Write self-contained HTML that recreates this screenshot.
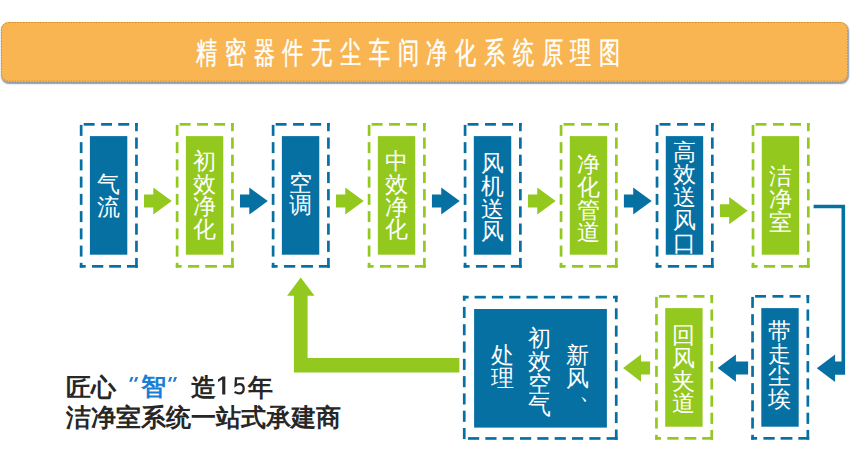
<!DOCTYPE html>
<html><head><meta charset="utf-8"><style>
html,body{margin:0;padding:0;background:#fff}
body{width:850px;height:459px;position:relative;overflow:hidden;font-family:"Liberation Sans",sans-serif}
.bar{position:absolute;left:1px;top:22px;width:847px;height:59.6px;background:#f8b551;border-radius:8px;box-shadow:0.3px 1.7px 1.4px rgba(75,88,118,.62)}
.title{position:absolute;left:195.5px;top:31px;color:#fff;font-size:30px;font-weight:500;-webkit-text-stroke:0.45px #fff;white-space:nowrap;letter-spacing:10.8px;transform:scaleX(0.706);transform-origin:0 0;line-height:44px}
svg{position:absolute;left:0;top:0}
.bt{position:absolute;color:#fff;font-size:23px;line-height:22.7px;text-align:center}
.bc{position:absolute;color:#fff;font-size:23px;line-height:22.7px;width:40px;text-align:center}
.sl{position:absolute;left:66px;color:#272727;font-weight:bold;font-size:25px;white-space:nowrap;line-height:30px}
.q{color:#1a7fd4}
</style></head><body>
<div class="bar"></div>
<div class="title">精密器件无尘车间净化系统原理图</div>
<svg width="850" height="459" viewBox="0 0 850 459" shape-rendering="geometricPrecision">
<rect x="1.5" y="22.5" width="846" height="58.6" rx="7.5" fill="none" stroke="#d38d2a" stroke-width="1" stroke-dasharray="1.5 1.3"/>
<rect x="83.70" y="123.00" width="10.90" height="2.70" fill="#0670a3"/>
<rect x="101.10" y="123.00" width="10.90" height="2.70" fill="#0670a3"/>
<rect x="118.20" y="123.00" width="11.00" height="2.70" fill="#0670a3"/>
<rect x="135.10" y="123.00" width="2.70" height="2.70" fill="#0670a3"/>
<rect x="135.10" y="123.00" width="2.70" height="8.20" fill="#0670a3"/>
<rect x="135.10" y="137.50" width="2.70" height="11.20" fill="#0670a3"/>
<rect x="135.10" y="154.70" width="2.70" height="11.20" fill="#0670a3"/>
<rect x="135.10" y="171.90" width="2.70" height="11.20" fill="#0670a3"/>
<rect x="135.10" y="189.10" width="2.70" height="11.20" fill="#0670a3"/>
<rect x="135.10" y="206.30" width="2.70" height="11.20" fill="#0670a3"/>
<rect x="135.10" y="223.50" width="2.70" height="11.20" fill="#0670a3"/>
<rect x="135.10" y="240.70" width="2.70" height="11.20" fill="#0670a3"/>
<rect x="135.10" y="257.90" width="2.70" height="9.80" fill="#0670a3"/>
<rect x="126.90" y="265.00" width="10.90" height="2.70" fill="#0670a3"/>
<rect x="109.20" y="265.00" width="11.80" height="2.70" fill="#0670a3"/>
<rect x="92.00" y="265.00" width="11.30" height="2.70" fill="#0670a3"/>
<rect x="79.80" y="265.00" width="5.90" height="2.70" fill="#0670a3"/>
<rect x="79.80" y="124.90" width="2.70" height="11.00" fill="#0670a3"/>
<rect x="79.80" y="142.14" width="2.70" height="11.00" fill="#0670a3"/>
<rect x="79.80" y="159.38" width="2.70" height="11.00" fill="#0670a3"/>
<rect x="79.80" y="176.62" width="2.70" height="11.00" fill="#0670a3"/>
<rect x="79.80" y="193.86" width="2.70" height="11.00" fill="#0670a3"/>
<rect x="79.80" y="211.10" width="2.70" height="11.00" fill="#0670a3"/>
<rect x="79.80" y="228.34" width="2.70" height="11.00" fill="#0670a3"/>
<rect x="79.80" y="245.58" width="2.70" height="11.00" fill="#0670a3"/>
<rect x="79.80" y="262.82" width="2.70" height="4.88" fill="#0670a3"/>
<rect x="89.90" y="136.10" width="37.40" height="118.60" fill="#0670a3"/>
<path d="M144.00 194.60 H153.30 V187.50 L171.80 201.05 L153.30 214.60 V207.50 H144.00Z" fill="#93c91f"/>
<rect x="179.68" y="123.00" width="10.90" height="2.70" fill="#93c91f"/>
<rect x="197.08" y="123.00" width="10.90" height="2.70" fill="#93c91f"/>
<rect x="214.18" y="123.00" width="11.00" height="2.70" fill="#93c91f"/>
<rect x="231.08" y="123.00" width="2.70" height="2.70" fill="#93c91f"/>
<rect x="231.08" y="123.00" width="2.70" height="8.20" fill="#93c91f"/>
<rect x="231.08" y="137.50" width="2.70" height="11.20" fill="#93c91f"/>
<rect x="231.08" y="154.70" width="2.70" height="11.20" fill="#93c91f"/>
<rect x="231.08" y="171.90" width="2.70" height="11.20" fill="#93c91f"/>
<rect x="231.08" y="189.10" width="2.70" height="11.20" fill="#93c91f"/>
<rect x="231.08" y="206.30" width="2.70" height="11.20" fill="#93c91f"/>
<rect x="231.08" y="223.50" width="2.70" height="11.20" fill="#93c91f"/>
<rect x="231.08" y="240.70" width="2.70" height="11.20" fill="#93c91f"/>
<rect x="231.08" y="257.90" width="2.70" height="9.80" fill="#93c91f"/>
<rect x="222.88" y="265.00" width="10.90" height="2.70" fill="#93c91f"/>
<rect x="205.18" y="265.00" width="11.80" height="2.70" fill="#93c91f"/>
<rect x="187.98" y="265.00" width="11.30" height="2.70" fill="#93c91f"/>
<rect x="175.78" y="265.00" width="5.90" height="2.70" fill="#93c91f"/>
<rect x="175.78" y="124.90" width="2.70" height="11.00" fill="#93c91f"/>
<rect x="175.78" y="142.14" width="2.70" height="11.00" fill="#93c91f"/>
<rect x="175.78" y="159.38" width="2.70" height="11.00" fill="#93c91f"/>
<rect x="175.78" y="176.62" width="2.70" height="11.00" fill="#93c91f"/>
<rect x="175.78" y="193.86" width="2.70" height="11.00" fill="#93c91f"/>
<rect x="175.78" y="211.10" width="2.70" height="11.00" fill="#93c91f"/>
<rect x="175.78" y="228.34" width="2.70" height="11.00" fill="#93c91f"/>
<rect x="175.78" y="245.58" width="2.70" height="11.00" fill="#93c91f"/>
<rect x="175.78" y="262.82" width="2.70" height="4.88" fill="#93c91f"/>
<rect x="185.88" y="136.10" width="37.40" height="118.60" fill="#93c91f"/>
<path d="M239.98 194.60 H249.28 V187.50 L267.78 201.05 L249.28 214.60 V207.50 H239.98Z" fill="#0670a3"/>
<rect x="275.66" y="123.00" width="10.90" height="2.70" fill="#0670a3"/>
<rect x="293.06" y="123.00" width="10.90" height="2.70" fill="#0670a3"/>
<rect x="310.16" y="123.00" width="11.00" height="2.70" fill="#0670a3"/>
<rect x="327.06" y="123.00" width="2.70" height="2.70" fill="#0670a3"/>
<rect x="327.06" y="123.00" width="2.70" height="8.20" fill="#0670a3"/>
<rect x="327.06" y="137.50" width="2.70" height="11.20" fill="#0670a3"/>
<rect x="327.06" y="154.70" width="2.70" height="11.20" fill="#0670a3"/>
<rect x="327.06" y="171.90" width="2.70" height="11.20" fill="#0670a3"/>
<rect x="327.06" y="189.10" width="2.70" height="11.20" fill="#0670a3"/>
<rect x="327.06" y="206.30" width="2.70" height="11.20" fill="#0670a3"/>
<rect x="327.06" y="223.50" width="2.70" height="11.20" fill="#0670a3"/>
<rect x="327.06" y="240.70" width="2.70" height="11.20" fill="#0670a3"/>
<rect x="327.06" y="257.90" width="2.70" height="9.80" fill="#0670a3"/>
<rect x="318.86" y="265.00" width="10.90" height="2.70" fill="#0670a3"/>
<rect x="301.16" y="265.00" width="11.80" height="2.70" fill="#0670a3"/>
<rect x="283.96" y="265.00" width="11.30" height="2.70" fill="#0670a3"/>
<rect x="271.76" y="265.00" width="5.90" height="2.70" fill="#0670a3"/>
<rect x="271.76" y="124.90" width="2.70" height="11.00" fill="#0670a3"/>
<rect x="271.76" y="142.14" width="2.70" height="11.00" fill="#0670a3"/>
<rect x="271.76" y="159.38" width="2.70" height="11.00" fill="#0670a3"/>
<rect x="271.76" y="176.62" width="2.70" height="11.00" fill="#0670a3"/>
<rect x="271.76" y="193.86" width="2.70" height="11.00" fill="#0670a3"/>
<rect x="271.76" y="211.10" width="2.70" height="11.00" fill="#0670a3"/>
<rect x="271.76" y="228.34" width="2.70" height="11.00" fill="#0670a3"/>
<rect x="271.76" y="245.58" width="2.70" height="11.00" fill="#0670a3"/>
<rect x="271.76" y="262.82" width="2.70" height="4.88" fill="#0670a3"/>
<rect x="281.86" y="136.10" width="37.40" height="118.60" fill="#0670a3"/>
<path d="M335.96 194.60 H345.26 V187.50 L363.76 201.05 L345.26 214.60 V207.50 H335.96Z" fill="#93c91f"/>
<rect x="371.64" y="123.00" width="10.90" height="2.70" fill="#93c91f"/>
<rect x="389.04" y="123.00" width="10.90" height="2.70" fill="#93c91f"/>
<rect x="406.14" y="123.00" width="11.00" height="2.70" fill="#93c91f"/>
<rect x="423.04" y="123.00" width="2.70" height="2.70" fill="#93c91f"/>
<rect x="423.04" y="123.00" width="2.70" height="8.20" fill="#93c91f"/>
<rect x="423.04" y="137.50" width="2.70" height="11.20" fill="#93c91f"/>
<rect x="423.04" y="154.70" width="2.70" height="11.20" fill="#93c91f"/>
<rect x="423.04" y="171.90" width="2.70" height="11.20" fill="#93c91f"/>
<rect x="423.04" y="189.10" width="2.70" height="11.20" fill="#93c91f"/>
<rect x="423.04" y="206.30" width="2.70" height="11.20" fill="#93c91f"/>
<rect x="423.04" y="223.50" width="2.70" height="11.20" fill="#93c91f"/>
<rect x="423.04" y="240.70" width="2.70" height="11.20" fill="#93c91f"/>
<rect x="423.04" y="257.90" width="2.70" height="9.80" fill="#93c91f"/>
<rect x="414.84" y="265.00" width="10.90" height="2.70" fill="#93c91f"/>
<rect x="397.14" y="265.00" width="11.80" height="2.70" fill="#93c91f"/>
<rect x="379.94" y="265.00" width="11.30" height="2.70" fill="#93c91f"/>
<rect x="367.74" y="265.00" width="5.90" height="2.70" fill="#93c91f"/>
<rect x="367.74" y="124.90" width="2.70" height="11.00" fill="#93c91f"/>
<rect x="367.74" y="142.14" width="2.70" height="11.00" fill="#93c91f"/>
<rect x="367.74" y="159.38" width="2.70" height="11.00" fill="#93c91f"/>
<rect x="367.74" y="176.62" width="2.70" height="11.00" fill="#93c91f"/>
<rect x="367.74" y="193.86" width="2.70" height="11.00" fill="#93c91f"/>
<rect x="367.74" y="211.10" width="2.70" height="11.00" fill="#93c91f"/>
<rect x="367.74" y="228.34" width="2.70" height="11.00" fill="#93c91f"/>
<rect x="367.74" y="245.58" width="2.70" height="11.00" fill="#93c91f"/>
<rect x="367.74" y="262.82" width="2.70" height="4.88" fill="#93c91f"/>
<rect x="377.84" y="136.10" width="37.40" height="118.60" fill="#93c91f"/>
<path d="M431.94 194.60 H441.24 V187.50 L459.74 201.05 L441.24 214.60 V207.50 H431.94Z" fill="#0670a3"/>
<rect x="467.62" y="123.00" width="10.90" height="2.70" fill="#0670a3"/>
<rect x="485.02" y="123.00" width="10.90" height="2.70" fill="#0670a3"/>
<rect x="502.12" y="123.00" width="11.00" height="2.70" fill="#0670a3"/>
<rect x="519.02" y="123.00" width="2.70" height="2.70" fill="#0670a3"/>
<rect x="519.02" y="123.00" width="2.70" height="8.20" fill="#0670a3"/>
<rect x="519.02" y="137.50" width="2.70" height="11.20" fill="#0670a3"/>
<rect x="519.02" y="154.70" width="2.70" height="11.20" fill="#0670a3"/>
<rect x="519.02" y="171.90" width="2.70" height="11.20" fill="#0670a3"/>
<rect x="519.02" y="189.10" width="2.70" height="11.20" fill="#0670a3"/>
<rect x="519.02" y="206.30" width="2.70" height="11.20" fill="#0670a3"/>
<rect x="519.02" y="223.50" width="2.70" height="11.20" fill="#0670a3"/>
<rect x="519.02" y="240.70" width="2.70" height="11.20" fill="#0670a3"/>
<rect x="519.02" y="257.90" width="2.70" height="9.80" fill="#0670a3"/>
<rect x="510.82" y="265.00" width="10.90" height="2.70" fill="#0670a3"/>
<rect x="493.12" y="265.00" width="11.80" height="2.70" fill="#0670a3"/>
<rect x="475.92" y="265.00" width="11.30" height="2.70" fill="#0670a3"/>
<rect x="463.72" y="265.00" width="5.90" height="2.70" fill="#0670a3"/>
<rect x="463.72" y="124.90" width="2.70" height="11.00" fill="#0670a3"/>
<rect x="463.72" y="142.14" width="2.70" height="11.00" fill="#0670a3"/>
<rect x="463.72" y="159.38" width="2.70" height="11.00" fill="#0670a3"/>
<rect x="463.72" y="176.62" width="2.70" height="11.00" fill="#0670a3"/>
<rect x="463.72" y="193.86" width="2.70" height="11.00" fill="#0670a3"/>
<rect x="463.72" y="211.10" width="2.70" height="11.00" fill="#0670a3"/>
<rect x="463.72" y="228.34" width="2.70" height="11.00" fill="#0670a3"/>
<rect x="463.72" y="245.58" width="2.70" height="11.00" fill="#0670a3"/>
<rect x="463.72" y="262.82" width="2.70" height="4.88" fill="#0670a3"/>
<rect x="473.82" y="136.10" width="37.40" height="118.60" fill="#0670a3"/>
<path d="M527.92 194.60 H537.22 V187.50 L555.72 201.05 L537.22 214.60 V207.50 H527.92Z" fill="#93c91f"/>
<rect x="563.60" y="123.00" width="10.90" height="2.70" fill="#93c91f"/>
<rect x="581.00" y="123.00" width="10.90" height="2.70" fill="#93c91f"/>
<rect x="598.10" y="123.00" width="11.00" height="2.70" fill="#93c91f"/>
<rect x="615.00" y="123.00" width="2.70" height="2.70" fill="#93c91f"/>
<rect x="615.00" y="123.00" width="2.70" height="8.20" fill="#93c91f"/>
<rect x="615.00" y="137.50" width="2.70" height="11.20" fill="#93c91f"/>
<rect x="615.00" y="154.70" width="2.70" height="11.20" fill="#93c91f"/>
<rect x="615.00" y="171.90" width="2.70" height="11.20" fill="#93c91f"/>
<rect x="615.00" y="189.10" width="2.70" height="11.20" fill="#93c91f"/>
<rect x="615.00" y="206.30" width="2.70" height="11.20" fill="#93c91f"/>
<rect x="615.00" y="223.50" width="2.70" height="11.20" fill="#93c91f"/>
<rect x="615.00" y="240.70" width="2.70" height="11.20" fill="#93c91f"/>
<rect x="615.00" y="257.90" width="2.70" height="9.80" fill="#93c91f"/>
<rect x="606.80" y="265.00" width="10.90" height="2.70" fill="#93c91f"/>
<rect x="589.10" y="265.00" width="11.80" height="2.70" fill="#93c91f"/>
<rect x="571.90" y="265.00" width="11.30" height="2.70" fill="#93c91f"/>
<rect x="559.70" y="265.00" width="5.90" height="2.70" fill="#93c91f"/>
<rect x="559.70" y="124.90" width="2.70" height="11.00" fill="#93c91f"/>
<rect x="559.70" y="142.14" width="2.70" height="11.00" fill="#93c91f"/>
<rect x="559.70" y="159.38" width="2.70" height="11.00" fill="#93c91f"/>
<rect x="559.70" y="176.62" width="2.70" height="11.00" fill="#93c91f"/>
<rect x="559.70" y="193.86" width="2.70" height="11.00" fill="#93c91f"/>
<rect x="559.70" y="211.10" width="2.70" height="11.00" fill="#93c91f"/>
<rect x="559.70" y="228.34" width="2.70" height="11.00" fill="#93c91f"/>
<rect x="559.70" y="245.58" width="2.70" height="11.00" fill="#93c91f"/>
<rect x="559.70" y="262.82" width="2.70" height="4.88" fill="#93c91f"/>
<rect x="569.80" y="136.10" width="37.40" height="118.60" fill="#93c91f"/>
<path d="M623.90 194.60 H633.20 V187.50 L651.70 201.05 L633.20 214.60 V207.50 H623.90Z" fill="#0670a3"/>
<rect x="659.58" y="123.00" width="10.90" height="2.70" fill="#0670a3"/>
<rect x="676.98" y="123.00" width="10.90" height="2.70" fill="#0670a3"/>
<rect x="694.08" y="123.00" width="11.00" height="2.70" fill="#0670a3"/>
<rect x="710.98" y="123.00" width="2.70" height="2.70" fill="#0670a3"/>
<rect x="710.98" y="123.00" width="2.70" height="8.20" fill="#0670a3"/>
<rect x="710.98" y="137.50" width="2.70" height="11.20" fill="#0670a3"/>
<rect x="710.98" y="154.70" width="2.70" height="11.20" fill="#0670a3"/>
<rect x="710.98" y="171.90" width="2.70" height="11.20" fill="#0670a3"/>
<rect x="710.98" y="189.10" width="2.70" height="11.20" fill="#0670a3"/>
<rect x="710.98" y="206.30" width="2.70" height="11.20" fill="#0670a3"/>
<rect x="710.98" y="223.50" width="2.70" height="11.20" fill="#0670a3"/>
<rect x="710.98" y="240.70" width="2.70" height="11.20" fill="#0670a3"/>
<rect x="710.98" y="257.90" width="2.70" height="9.80" fill="#0670a3"/>
<rect x="702.78" y="265.00" width="10.90" height="2.70" fill="#0670a3"/>
<rect x="685.08" y="265.00" width="11.80" height="2.70" fill="#0670a3"/>
<rect x="667.88" y="265.00" width="11.30" height="2.70" fill="#0670a3"/>
<rect x="655.68" y="265.00" width="5.90" height="2.70" fill="#0670a3"/>
<rect x="655.68" y="124.90" width="2.70" height="11.00" fill="#0670a3"/>
<rect x="655.68" y="142.14" width="2.70" height="11.00" fill="#0670a3"/>
<rect x="655.68" y="159.38" width="2.70" height="11.00" fill="#0670a3"/>
<rect x="655.68" y="176.62" width="2.70" height="11.00" fill="#0670a3"/>
<rect x="655.68" y="193.86" width="2.70" height="11.00" fill="#0670a3"/>
<rect x="655.68" y="211.10" width="2.70" height="11.00" fill="#0670a3"/>
<rect x="655.68" y="228.34" width="2.70" height="11.00" fill="#0670a3"/>
<rect x="655.68" y="245.58" width="2.70" height="11.00" fill="#0670a3"/>
<rect x="655.68" y="262.82" width="2.70" height="4.88" fill="#0670a3"/>
<rect x="665.78" y="136.10" width="37.40" height="118.60" fill="#0670a3"/>
<path d="M719.88 204.20 H729.18 V197.10 L747.68 210.65 L729.18 224.20 V217.10 H719.88Z" fill="#93c91f"/>
<rect x="755.56" y="123.00" width="10.90" height="2.70" fill="#93c91f"/>
<rect x="772.96" y="123.00" width="10.90" height="2.70" fill="#93c91f"/>
<rect x="790.06" y="123.00" width="11.00" height="2.70" fill="#93c91f"/>
<rect x="806.96" y="123.00" width="2.70" height="2.70" fill="#93c91f"/>
<rect x="806.96" y="123.00" width="2.70" height="8.20" fill="#93c91f"/>
<rect x="806.96" y="137.50" width="2.70" height="11.20" fill="#93c91f"/>
<rect x="806.96" y="154.70" width="2.70" height="11.20" fill="#93c91f"/>
<rect x="806.96" y="171.90" width="2.70" height="11.20" fill="#93c91f"/>
<rect x="806.96" y="189.10" width="2.70" height="11.20" fill="#93c91f"/>
<rect x="806.96" y="206.30" width="2.70" height="11.20" fill="#93c91f"/>
<rect x="806.96" y="223.50" width="2.70" height="11.20" fill="#93c91f"/>
<rect x="806.96" y="240.70" width="2.70" height="11.20" fill="#93c91f"/>
<rect x="806.96" y="257.90" width="2.70" height="9.80" fill="#93c91f"/>
<rect x="798.76" y="265.00" width="10.90" height="2.70" fill="#93c91f"/>
<rect x="781.06" y="265.00" width="11.80" height="2.70" fill="#93c91f"/>
<rect x="763.86" y="265.00" width="11.30" height="2.70" fill="#93c91f"/>
<rect x="751.66" y="265.00" width="5.90" height="2.70" fill="#93c91f"/>
<rect x="751.66" y="124.90" width="2.70" height="11.00" fill="#93c91f"/>
<rect x="751.66" y="142.14" width="2.70" height="11.00" fill="#93c91f"/>
<rect x="751.66" y="159.38" width="2.70" height="11.00" fill="#93c91f"/>
<rect x="751.66" y="176.62" width="2.70" height="11.00" fill="#93c91f"/>
<rect x="751.66" y="193.86" width="2.70" height="11.00" fill="#93c91f"/>
<rect x="751.66" y="211.10" width="2.70" height="11.00" fill="#93c91f"/>
<rect x="751.66" y="228.34" width="2.70" height="11.00" fill="#93c91f"/>
<rect x="751.66" y="245.58" width="2.70" height="11.00" fill="#93c91f"/>
<rect x="751.66" y="262.82" width="2.70" height="4.88" fill="#93c91f"/>
<rect x="761.76" y="136.10" width="37.40" height="118.60" fill="#93c91f"/>
<rect x="755.10" y="295.00" width="10.90" height="2.70" fill="#0670a3"/>
<rect x="772.50" y="295.00" width="10.90" height="2.70" fill="#0670a3"/>
<rect x="789.60" y="295.00" width="11.00" height="2.70" fill="#0670a3"/>
<rect x="806.50" y="295.00" width="2.70" height="2.70" fill="#0670a3"/>
<rect x="806.50" y="295.00" width="2.70" height="8.20" fill="#0670a3"/>
<rect x="806.50" y="309.50" width="2.70" height="11.20" fill="#0670a3"/>
<rect x="806.50" y="326.70" width="2.70" height="11.20" fill="#0670a3"/>
<rect x="806.50" y="343.90" width="2.70" height="11.20" fill="#0670a3"/>
<rect x="806.50" y="361.10" width="2.70" height="11.20" fill="#0670a3"/>
<rect x="806.50" y="378.30" width="2.70" height="11.20" fill="#0670a3"/>
<rect x="806.50" y="395.50" width="2.70" height="11.20" fill="#0670a3"/>
<rect x="806.50" y="412.70" width="2.70" height="11.20" fill="#0670a3"/>
<rect x="806.50" y="429.90" width="2.70" height="9.80" fill="#0670a3"/>
<rect x="798.30" y="437.00" width="10.90" height="2.70" fill="#0670a3"/>
<rect x="780.60" y="437.00" width="11.80" height="2.70" fill="#0670a3"/>
<rect x="763.40" y="437.00" width="11.30" height="2.70" fill="#0670a3"/>
<rect x="751.20" y="437.00" width="5.90" height="2.70" fill="#0670a3"/>
<rect x="751.20" y="296.90" width="2.70" height="11.00" fill="#0670a3"/>
<rect x="751.20" y="314.14" width="2.70" height="11.00" fill="#0670a3"/>
<rect x="751.20" y="331.38" width="2.70" height="11.00" fill="#0670a3"/>
<rect x="751.20" y="348.62" width="2.70" height="11.00" fill="#0670a3"/>
<rect x="751.20" y="365.86" width="2.70" height="11.00" fill="#0670a3"/>
<rect x="751.20" y="383.10" width="2.70" height="11.00" fill="#0670a3"/>
<rect x="751.20" y="400.34" width="2.70" height="11.00" fill="#0670a3"/>
<rect x="751.20" y="417.58" width="2.70" height="11.00" fill="#0670a3"/>
<rect x="751.20" y="434.82" width="2.70" height="4.88" fill="#0670a3"/>
<rect x="761.30" y="308.10" width="37.40" height="118.60" fill="#0670a3"/>
<rect x="659.00" y="295.00" width="10.90" height="2.70" fill="#93c91f"/>
<rect x="676.40" y="295.00" width="10.90" height="2.70" fill="#93c91f"/>
<rect x="693.50" y="295.00" width="11.00" height="2.70" fill="#93c91f"/>
<rect x="710.40" y="295.00" width="2.70" height="2.70" fill="#93c91f"/>
<rect x="710.40" y="295.00" width="2.70" height="8.20" fill="#93c91f"/>
<rect x="710.40" y="309.50" width="2.70" height="11.20" fill="#93c91f"/>
<rect x="710.40" y="326.70" width="2.70" height="11.20" fill="#93c91f"/>
<rect x="710.40" y="343.90" width="2.70" height="11.20" fill="#93c91f"/>
<rect x="710.40" y="361.10" width="2.70" height="11.20" fill="#93c91f"/>
<rect x="710.40" y="378.30" width="2.70" height="11.20" fill="#93c91f"/>
<rect x="710.40" y="395.50" width="2.70" height="11.20" fill="#93c91f"/>
<rect x="710.40" y="412.70" width="2.70" height="11.20" fill="#93c91f"/>
<rect x="710.40" y="429.90" width="2.70" height="9.80" fill="#93c91f"/>
<rect x="702.20" y="437.00" width="10.90" height="2.70" fill="#93c91f"/>
<rect x="684.50" y="437.00" width="11.80" height="2.70" fill="#93c91f"/>
<rect x="667.30" y="437.00" width="11.30" height="2.70" fill="#93c91f"/>
<rect x="655.10" y="437.00" width="5.90" height="2.70" fill="#93c91f"/>
<rect x="655.10" y="296.90" width="2.70" height="11.00" fill="#93c91f"/>
<rect x="655.10" y="314.14" width="2.70" height="11.00" fill="#93c91f"/>
<rect x="655.10" y="331.38" width="2.70" height="11.00" fill="#93c91f"/>
<rect x="655.10" y="348.62" width="2.70" height="11.00" fill="#93c91f"/>
<rect x="655.10" y="365.86" width="2.70" height="11.00" fill="#93c91f"/>
<rect x="655.10" y="383.10" width="2.70" height="11.00" fill="#93c91f"/>
<rect x="655.10" y="400.34" width="2.70" height="11.00" fill="#93c91f"/>
<rect x="655.10" y="417.58" width="2.70" height="11.00" fill="#93c91f"/>
<rect x="655.10" y="434.82" width="2.70" height="4.88" fill="#93c91f"/>
<rect x="665.20" y="308.10" width="37.40" height="118.60" fill="#93c91f"/>
<rect x="462.90" y="295.80" width="5.70" height="2.70" fill="#0670a3"/>
<rect x="474.60" y="295.80" width="11.20" height="2.70" fill="#0670a3"/>
<rect x="491.90" y="295.80" width="11.20" height="2.70" fill="#0670a3"/>
<rect x="509.20" y="295.80" width="11.20" height="2.70" fill="#0670a3"/>
<rect x="526.50" y="295.80" width="11.20" height="2.70" fill="#0670a3"/>
<rect x="543.80" y="295.80" width="11.20" height="2.70" fill="#0670a3"/>
<rect x="561.10" y="295.80" width="11.20" height="2.70" fill="#0670a3"/>
<rect x="578.40" y="295.80" width="11.20" height="2.70" fill="#0670a3"/>
<rect x="595.70" y="295.80" width="11.20" height="2.70" fill="#0670a3"/>
<rect x="613.00" y="295.80" width="4.60" height="2.70" fill="#0670a3"/>
<rect x="462.90" y="295.80" width="2.70" height="5.00" fill="#0670a3"/>
<rect x="462.90" y="306.90" width="2.70" height="11.10" fill="#0670a3"/>
<rect x="462.90" y="324.20" width="2.70" height="11.10" fill="#0670a3"/>
<rect x="462.90" y="341.50" width="2.70" height="11.10" fill="#0670a3"/>
<rect x="462.90" y="358.80" width="2.70" height="11.10" fill="#0670a3"/>
<rect x="462.90" y="376.10" width="2.70" height="11.10" fill="#0670a3"/>
<rect x="462.90" y="393.40" width="2.70" height="11.10" fill="#0670a3"/>
<rect x="462.90" y="410.70" width="2.70" height="11.10" fill="#0670a3"/>
<rect x="462.90" y="428.00" width="2.70" height="11.10" fill="#0670a3"/>
<rect x="468.00" y="437.10" width="11.20" height="2.70" fill="#0670a3"/>
<rect x="485.33" y="437.10" width="11.20" height="2.70" fill="#0670a3"/>
<rect x="502.66" y="437.10" width="11.20" height="2.70" fill="#0670a3"/>
<rect x="519.99" y="437.10" width="11.20" height="2.70" fill="#0670a3"/>
<rect x="537.32" y="437.10" width="11.20" height="2.70" fill="#0670a3"/>
<rect x="554.65" y="437.10" width="11.20" height="2.70" fill="#0670a3"/>
<rect x="571.98" y="437.10" width="11.20" height="2.70" fill="#0670a3"/>
<rect x="589.31" y="437.10" width="11.20" height="2.70" fill="#0670a3"/>
<rect x="606.60" y="437.10" width="11.00" height="2.70" fill="#0670a3"/>
<rect x="614.90" y="295.80" width="2.70" height="6.40" fill="#0670a3"/>
<rect x="614.90" y="308.30" width="2.70" height="11.00" fill="#0670a3"/>
<rect x="614.90" y="325.60" width="2.70" height="11.00" fill="#0670a3"/>
<rect x="614.90" y="342.90" width="2.70" height="11.00" fill="#0670a3"/>
<rect x="614.90" y="360.20" width="2.70" height="11.00" fill="#0670a3"/>
<rect x="614.90" y="377.50" width="2.70" height="11.00" fill="#0670a3"/>
<rect x="614.90" y="394.80" width="2.70" height="11.00" fill="#0670a3"/>
<rect x="614.90" y="412.10" width="2.70" height="11.00" fill="#0670a3"/>
<rect x="614.90" y="429.50" width="2.70" height="10.30" fill="#0670a3"/>
<rect x="474.10" y="309.00" width="132.80" height="118.60" fill="#0670a3"/>
<path d="M717.70 368.1 L735.90 354.4 V361.6 H748.10 V374.5 H735.90 V381.8Z" fill="#0670a3"/>
<path d="M623.10 368.1 L641.00 354.4 V361.6 H650.10 V374.5 H641.00 V381.8Z" fill="#93c91f"/>
<path d="M813.6 204.7 H845.1 V374.7 H835.1 V381.9 L816.8 368.15 L835.1 354.6 V361.6 H841.5 V208.3 H813.6Z" fill="#0670a3"/>
<path d="M129.20 381.7 L131.50 381.7 L133.40 376.9 L130.90 376.9Z" fill="#1a7fd4"/>
<path d="M134.00 381.7 L136.30 381.7 L138.20 376.9 L135.70 376.9Z" fill="#1a7fd4"/>
<path d="M168.00 381.7 L170.30 381.7 L172.20 376.9 L169.70 376.9Z" fill="#1a7fd4"/>
<path d="M172.80 381.7 L175.10 381.7 L177.00 376.9 L174.50 376.9Z" fill="#1a7fd4"/>
<path d="M222.4 376.6 H225.3 V394.6 H222.2 V379.4 L218 382 V379.5Z" fill="#272727"/>
<path d="M244.2 378.3 H236 L235.6 385.4 C237 384.4 238.3 384.1 239.6 384.1 C242.2 384.1 243.7 386 243.7 388.8 C243.7 391.6 241.9 393.4 239.3 393.4 C237.5 393.4 236 392.8 234.6 391.9" fill="none" stroke="#272727" stroke-width="2.3"/>
<path d="M459.4 358 V372.5 H293.9 V295.8 H287.1 L300.75 277.4 L314.5 295.8 H307.6 V358Z" fill="#93c91f"/>
</svg>
<div class="bt" style="left:89.90px;top:173.30px;width:37.40px">气<br>流</div>
<div class="bt" style="left:185.88px;top:150.00px;width:37.40px">初<br>效<br>净<br>化</div>
<div class="bt" style="left:281.86px;top:171.60px;width:37.40px">空<br>调</div>
<div class="bt" style="left:377.84px;top:150.25px;width:37.40px">中<br>效<br>净<br>化</div>
<div class="bt" style="left:473.82px;top:152.15px;width:37.40px">风<br>机<br>送<br>风</div>
<div class="bt" style="left:569.80px;top:153.25px;width:37.40px">净<br>化<br>管<br>道</div>
<div class="bt" style="left:665.78px;top:140.75px;width:37.40px">高<br>效<br>送<br>风<br>口</div>
<div class="bt" style="left:761.76px;top:165.45px;width:37.40px">洁<br>净<br>室</div>
<div class="bt" style="left:761.30px;top:320.05px;width:37.40px">带<br>走<br>尘<br>埃</div>
<div class="bt" style="left:665.20px;top:324.20px;width:37.40px">回<br>风<br>夹<br>道</div>
<div class="bc" style="left:570px;top:380px">、</div>
<div class="bc" style="left:557.70px;top:344.40px">新<br>风</div>
<div class="bc" style="left:519.70px;top:327.20px">初<br>效<br>空<br>气</div>
<div class="bc" style="left:482.30px;top:343.90px">处<br>理</div>
<div class="sl" style="top:372px">匠心<span style="display:inline-block;width:25px"></span><span class="q" style="position:relative;top:-1px">智</span><span style="display:inline-block;width:25px"></span>造<span style="display:inline-block;width:31.8px"></span>年</div>
<div class="sl" style="top:402px">洁净室系统一站式承建商</div>
</body></html>
